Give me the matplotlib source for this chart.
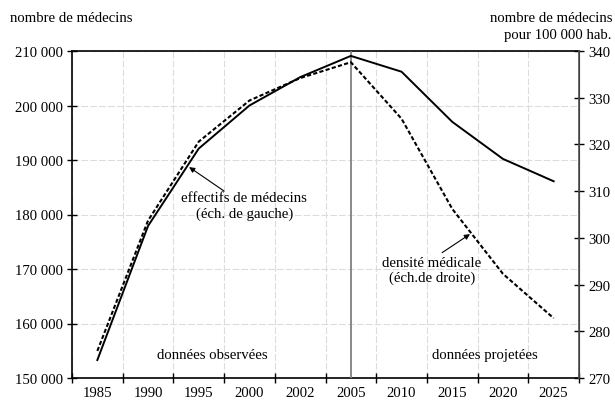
import matplotlib.pyplot as plt
from matplotlib.ticker import FuncFormatter

annees = ['1985', '1990', '1995', '2000', '2002', '2005', '2010', '2015', '2020', '2025']
effectifs = [153300, 177900, 192100, 200000, 205200, 209100, 206200, 197000, 190200, 186100]
densite = [275.8, 303.7, 320.6, 329.4, 334.2, 337.6, 325.5, 306.2, 292.3, 282.8]

plt.rcParams['font.family'] = ['Liberation Serif', 'DejaVu Serif']
plt.rcParams['font.size'] = 10.6

fig = plt.figure(figsize=(6.15, 4.06), dpi=100)
ax = fig.add_axes([72/615, 1-379/406, 507/615, 327/406])
ax2 = ax.twinx()

x = list(range(len(annees)))
ax.plot(x, effectifs, color='black', lw=1.4, zorder=4)
ax2.plot(x, densite, color='black', lw=1.5, ls=(0, (2.0, 1.1)), zorder=4)

ax.set_xlim(-0.5, len(annees) - 0.5)
ax.set_ylim(150000, 210000)
ax2.set_ylim(270, 340)
ax.set_yticks(range(150000, 210001, 10000))
ax2.set_yticks(range(270, 341, 10))
ax.yaxis.set_major_formatter(FuncFormatter(lambda v, p: f"{int(v):,}".replace(',', ' ')))

# ticks between the categories, labels in the middle
bords = [i - 0.5 for i in range(len(annees) + 1)]
ax.set_xticks(bords)
ax.set_xticklabels([])
ax.set_xticks(x, minor=True)
ax.set_xticklabels(annees, minor=True)
ax.tick_params(axis='x', which='major', direction='inout', length=7, width=1)
ax.tick_params(axis='x', which='minor', length=0, pad=6)
ax.tick_params(axis='y', direction='inout', length=7, width=1, pad=3)
ax2.tick_params(axis='y', direction='inout', length=7, width=1, pad=3)

ax.grid(True, which='major', color='#dcdcdc', ls=(0, (6, 2)), lw=0.8)
ax.set_axisbelow(True)
ax.axvline(5, color='#808080', lw=1.3, zorder=3)

for s in ['left', 'bottom', 'top']:
    ax.spines[s].set_linewidth(1.2)
ax2.spines['right'].set_color('#505050')
ax2.spines['right'].set_linewidth(1.2)
for s in ['left', 'bottom', 'top']:
    ax2.spines[s].set_visible(False)

ax.text(2.9, 181700, 'effectifs de médecins\n(éch. de gauche)', ha='center', va='center',
        multialignment='center', linespacing=1.2, zorder=5)
ax.annotate('', xy=(1.81, 188700), xytext=(2.5, 184300),
            arrowprops=dict(arrowstyle='-|>', lw=0.8, color='black', mutation_scale=8,
                            shrinkA=0, shrinkB=0), zorder=5)
ax.text(6.6, 169800, 'densité médicale\n(éch.de droite)', ha='center', va='center',
        multialignment='center', linespacing=1.2, zorder=5)
ax.annotate('', xy=(7.35, 176400), xytext=(6.8, 173000),
            arrowprops=dict(arrowstyle='-|>', lw=0.8, color='black', mutation_scale=8,
                            shrinkA=0, shrinkB=0), zorder=5)
ax.text(2.26, 154400, 'données observées', ha='center', va='center')
ax.text(7.65, 154400, 'données projetées', ha='center', va='center')

fig.text(10/615, 1-18/406, 'nombre de médecins', ha='left', va='center')
fig.text(612/615, 1-18/406, 'nombre de médecins', ha='right', va='center')
fig.text(612/615, 1-36/406, 'pour 100 000 hab.', ha='right', va='center')

fig.savefig('out.png', dpi=100)
